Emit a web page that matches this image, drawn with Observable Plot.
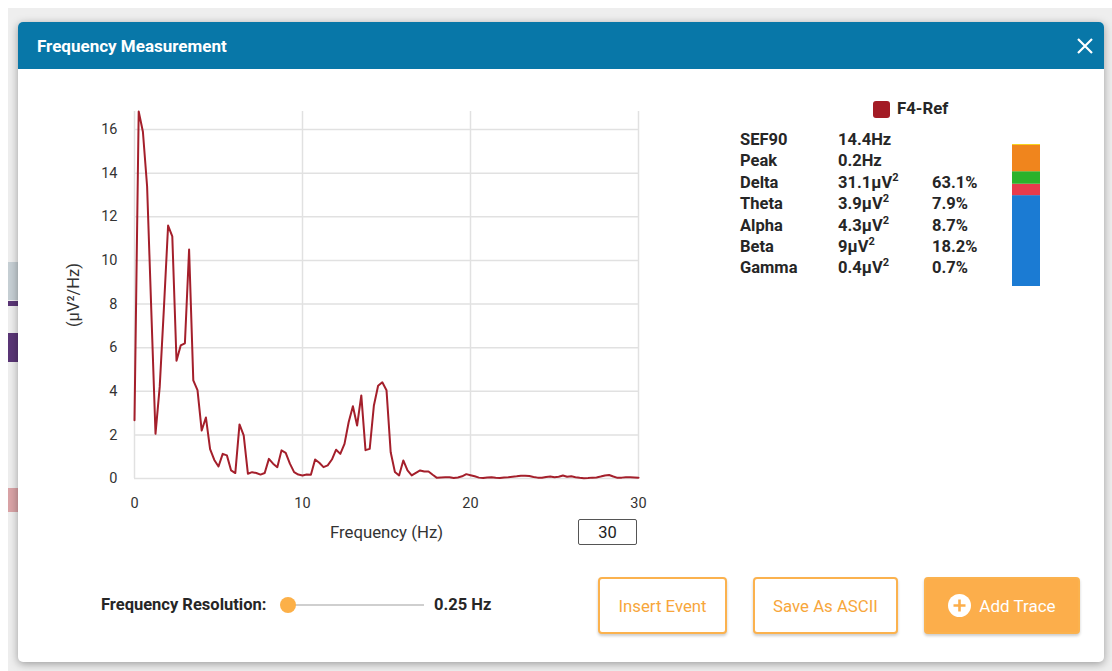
<!DOCTYPE html>
<html>
<head>
<meta charset="utf-8">
<script src="https://cdn.jsdelivr.net/npm/d3@7"></script>
<script src="https://cdn.jsdelivr.net/npm/@observablehq/plot@0.6"></script>
<style>
  html, body { margin: 0; padding: 0; }
  body { width: 1112px; height: 671px; overflow: hidden; position: relative; background: #fff; font-family: Roboto, "Noto Sans", sans-serif; }
  .abs { position: absolute; }
  .bg { left: 8px; top: 8px; right: 0; bottom: 0; background: #eeeeee; }
  .modal { left: 18px; top: 22px; width: 1086px; height: 640px; background: #fff; border-radius: 5px; box-shadow: 0 2px 8px rgba(0,0,0,0.35); overflow: hidden; }
  .hdr { left: 0; top: 0; width: 1086px; height: 47px; background: #0877a8; }
  .title { left: 37px; top: 35px; color: #fff; font-weight: 700; font-size: 17px; line-height: 22px; }
  .stat { font-weight: 700; font-size: 16.5px; color: #262626; line-height: 21.4px; white-space: nowrap; }
  .stat sup { font-size: 11px; line-height: 0; vertical-align: 7px; }
  .btn { top: 577px; height: 53px; border: 2px solid #fbb24e; border-radius: 4px; color: #f7a63b; font-size: 16.8px; display: flex; align-items: center; justify-content: center; box-shadow: 0 2px 3px rgba(0,0,0,0.2); background: #fff; }
  .lbl { font-weight: 700; font-size: 16.5px; color: #262626; line-height: 20px; top: 595px; }
</style>
</head>
<body>
<div class="abs bg"></div>
<div class="abs" style="left:8px;top:262px;width:10px;height:38px;background:#c6cfd4"></div>
<div class="abs" style="left:8px;top:301px;width:10px;height:5px;background:#5a3676"></div>
<div class="abs" style="left:8px;top:333px;width:10px;height:29px;background:#5a3676"></div>
<div class="abs" style="left:8px;top:488px;width:10px;height:24px;background:#d9a3a6"></div>
<div class="abs modal"><div class="abs hdr"></div></div>
<div class="abs title">Frequency Measurement</div>
<svg class="abs" style="left:1076px;top:37px" width="18" height="18"><path d="M2 2 L16 16 M16 2 L2 16" stroke="#fff" stroke-width="2.2"/></svg>

<div id="chart" class="abs" style="left:60px;top:100px"></div>
<input class="abs" value="30" style="left:578px;top:519px;width:55px;height:22px;border:1px solid #555;border-radius:2px;font-family:Roboto;font-size:16.5px;text-align:center;padding:1px;color:#222;">

<div class="abs" style="left:873px;top:101px;width:17px;height:17px;background:#a31b25;border-radius:3px"></div>
<div class="abs stat" style="left:897px;top:98px;font-size:16.8px">F4-Ref</div>
<div id="stats"></div>
<div id="bar" class="abs" style="left:1012px;top:144px"></div>

<div class="abs lbl" style="left:101px">Frequency Resolution:</div>
<div class="abs" style="left:288px;top:604px;width:136px;height:2px;background:#cfcfcf"></div>
<div class="abs" style="left:280px;top:597px;width:16px;height:16px;border-radius:50%;background:#fcb048"></div>
<div class="abs lbl" style="left:434px">0.25 Hz</div>

<div class="abs btn" style="left:598px;width:125px">Insert Event</div>
<div class="abs btn" style="left:753px;width:141px">Save As ASCII</div>
<div class="abs btn" style="left:924px;width:152px;background:#fcae4b;color:#fff;font-size:17px">
  <svg width="23" height="23" style="margin-right:8px"><circle cx="11.5" cy="11.5" r="11.5" fill="#fff"/><path d="M11.5 5.5 V17.5 M5.5 11.5 H17.5" stroke="#fcae4b" stroke-width="2.6"/></svg>Add Trace
</div>

<script>
// ---- Spectrum data (F4-Ref), frequency resolution 0.25 Hz, 0–30 Hz ----
const resolutionHz = 0.25;
const powerValues = [
  2.67, 16.83, 15.9, 13.4, 7.7, 2.05, 4.2, 7.8,
  11.6, 11.1, 5.4, 6.1, 6.2, 10.5, 4.5, 4.05,
  2.2, 2.8, 1.35, 0.85, 0.55, 1.13, 1.06, 0.37,
  0.25, 2.48, 1.98, 0.22, 0.29, 0.25, 0.18, 0.25,
  0.9, 0.68, 0.52, 1.29, 1.18, 0.68, 0.29, 0.18,
  0.14, 0.18, 0.17, 0.87, 0.72, 0.52, 0.6, 0.87,
  1.32, 1.13, 1.59, 2.59, 3.31, 2.43, 3.81, 1.3,
  1.36, 3.35, 4.25, 4.41, 4.05, 1.2, 0.3, 0.14,
  0.83, 0.37, 0.14, 0.26, 0.37, 0.32, 0.32, 0.17,
  0.03, 0.05, 0.06, 0.06, 0.02, 0.05, 0.1, 0.2,
  0.15, 0.1, 0.04, 0.02, 0.05, 0.06, 0.03, 0.02,
  0.05, 0.06, 0.08, 0.1, 0.13, 0.13, 0.11, 0.07,
  0.04, 0.03, 0.07, 0.09, 0.06, 0.08, 0.14, 0.08,
  0.1, 0.06, 0.03, 0.01, 0.02, 0.04, 0.05, 0.09,
  0.14, 0.16, 0.09, 0.03, 0.04, 0.06, 0.06, 0.05,
  0.04
];
const xTicks = [0, 10, 20, 30];
const yTicks = [0, 2, 4, 6, 8, 10, 12, 14, 16];

// ---- Band statistics ----
const summaryLabels = ["SEF90", "Peak"];
const summaryValues = ["14.4Hz", "0.2Hz"];
const bandNames = ["Delta", "Theta", "Alpha", "Beta", "Gamma"];
const bandPowers = [31.1, 3.9, 4.3, 9, 0.4];
const bandPercents = [63.1, 7.9, 8.7, 18.2, 0.7];

const spectrum = powerValues.map((p, i) => ({f: i * resolutionHz, p}));

const chart = Plot.plot({
  width: 600,
  height: 450,
  marginLeft: 74,
  marginTop: 11,
  marginRight: 22,
  marginBottom: 72,
  x: {domain: [0, 30]},
  y: {domain: [0, d3.max(powerValues)]},
  style: {fontFamily: "Roboto, sans-serif", color: "#333", background: "transparent", overflow: "visible"},
  marks: [
    Plot.gridY(yTicks, {stroke: "#e1e1e1", strokeOpacity: 1, strokeWidth: 1.5}),
    Plot.gridX(xTicks, {stroke: "#e1e1e1", strokeOpacity: 1, strokeWidth: 1.5}),
    Plot.axisY(yTicks, {tickSize: 0, tickPadding: 17, fontSize: 14.5, label: null}),
    Plot.axisX(xTicks, {tickSize: 0, tickPadding: 19, fontSize: 14.5, label: null}),
    Plot.text(["(µV²/Hz)"], {frameAnchor: "left", textAnchor: "middle", rotate: -90, dx: -61, fontSize: 16.5, fill: "#333"}),
    Plot.text(["Frequency (Hz)"], {frameAnchor: "bottom", lineAnchor: "middle", dy: 54, fontSize: 16.8, fill: "#333"}),
    Plot.lineY(spectrum, {x: "f", y: "p", stroke: "#a41f2b", strokeWidth: 2})
  ]
});
document.getElementById("chart").append(chart);

// stats table
const stats = document.getElementById("stats");
const rowTop = 129, rowH = 21.4;
function addCell(html, left, row) {
  const d = document.createElement("div");
  d.className = "abs stat";
  d.style.left = left + "px";
  d.style.top = (rowTop + row * rowH) + "px";
  d.innerHTML = html;
  stats.append(d);
}
summaryLabels.forEach((l, i) => { addCell(l, 740, i); addCell(summaryValues[i], 838, i); });
bandNames.forEach((b, i) => {
  addCell(b, 740, i + 2);
  addCell(bandPowers[i] + "µV<sup>2</sup>", 838, i + 2);
  addCell(bandPercents[i] + "%", 932, i + 2);
});

// stacked band bar
const bandRows = bandNames.map((band, i) => ({band, pct: bandPercents[i]}));
const bar = Plot.plot({
  width: 28,
  height: 142,
  margin: 0,
  x: {axis: null},
  y: {axis: null, domain: [0, d3.sum(bandPercents)]},
  color: {domain: bandNames, range: ["#1b7bd3", "#e73b4d", "#2bb22b", "#f0851d", "#f7d21e"]},
  style: {background: "transparent"},
  marks: [
    Plot.barY(bandRows, {y: "pct", fill: "band", order: bandNames})
  ]
});
document.getElementById("bar").append(bar);
</script>
</body>
</html>
